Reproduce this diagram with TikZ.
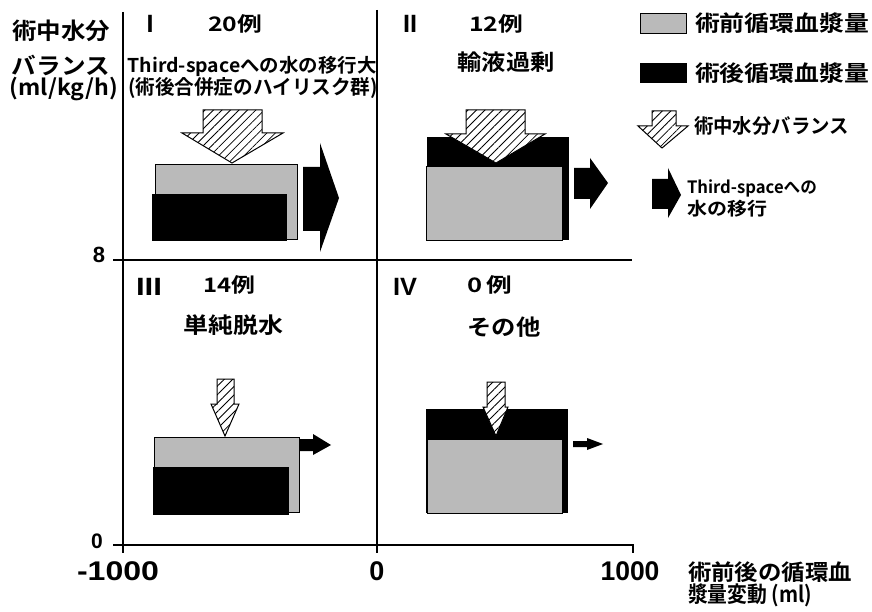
\documentclass[tikz,border=0pt]{standalone}
\usepackage{fontspec}
\usepackage{graphicx}
\usetikzlibrary{patterns.meta}
\newfontfamily\jp{Noto Sans CJK JP}[UprightFont=* Bold]
\newfontfamily\num{Liberation Sans}[UprightFont=* Bold]
\newcommand\fitw[2]{\resizebox{#1}{\height}{#2}}
\newcommand\fs[1]{\fontsize{#1}{#1}\selectfont}
\tikzset{
  ax/.style={line width=1.8pt},
  prebox/.style={fill=black!27, draw=black, line width=0.7pt},
  postbox/.style={fill=black},
  hatcharrow/.style={fill=white, draw=black, line width=1pt,
     postaction={pattern={Lines[angle=45,distance=6pt,line width=0.8pt]}}},
  movearrow/.style={fill=black},
  lbl/.style={inner sep=0pt, outer sep=0pt},
}
\begin{document}
\begin{tikzpicture}[x=1pt,y=-1pt]
\useasboundingbox (0,0) rectangle (872,612);

% axes
\draw[ax] (123,12) -- (123,553);
\draw[ax] (377,10) -- (377,553);
\draw[ax] (113,260) -- (632,260);
\draw[ax] (113,545) -- (633,545) -- (633,553);

% axis labels
\node[lbl] (ya) at (61,31) {\jp\fs{23}\fitw{98pt}{術中水分}};
\node[lbl] (yb) at (61,65) {\jp\fs{23}\fitw{98pt}{バランス}};
\node[lbl] (yc) at (64,89) {\jp\fs{22}\fitw{108pt}{(ml/kg/h)}};
\node[lbl] (y8) at (99,255) {\num\fs{22}8};
\node[lbl] (y0) at (97,541) {\num\fs{21}0};
\node[lbl] (xm) at (118,571) {\num\fs{27}\fitw{82pt}{-1000}};
\node[lbl] (xz) at (377,571) {\num\fs{27}0};
\node[lbl] (xp) at (630,571) {\num\fs{27}\fitw{59pt}{1000}};
\node[lbl, anchor=west] (xla) at (688,572) {\jp\fs{22}\fitw{164pt}{術前後の循環血}};
\node[lbl, anchor=west] (xlb) at (688,595) {\jp\fs{22}\fitw{124pt}{漿量変動 (ml)}};

% quadrant titles
\node[lbl] (q1n) at (150,24) {\num\fs{25}I};
\node[lbl] (q1c) at (235,24) {\jp\fs{20}\fitw{54pt}{20例}};
\node[lbl] (q1a) at (252,66) {\jp\fs{19}\fitw{249pt}{Third-spaceへの水の移行大}};
\node[lbl] (q1b) at (253,88) {\jp\fs{20}\fitw{250pt}{(術後合併症のハイリスク群)}};
\node[lbl] (q2n) at (410,24) {\num\fs{25}\fitw{14pt}{II}};
\node[lbl] (q2c) at (496,24) {\jp\fs{20}\fitw{54pt}{12例}};
\node[lbl] (q2a) at (506,62) {\jp\fs{22}\fitw{97pt}{輸液過剰}};
\node[lbl] (q3n) at (149,287) {\num\fs{25}\fitw{26pt}{III}};
\node[lbl] (q3c) at (229,285) {\jp\fs{20}\fitw{52pt}{14例}};
\node[lbl] (q3a) at (233,325) {\jp\fs{22}\fitw{100pt}{単純脱水}};
\node[lbl] (q4n) at (405,287) {\num\fs{25}\fitw{24pt}{IV}};
\node[lbl] (q4c) at (490,285) {\jp\fs{20}\fitw{45pt}{0\,例}};
\node[lbl] (q4a) at (504,327) {\jp\fs{22}\fitw{73pt}{その他}};

% quadrant I
\fill[prebox] (155,164) rectangle (297,239);
\fill[postbox] (152,194) rectangle (287,241);
\draw[hatcharrow] (203,110) -- (262,110) -- (262,133) -- (283,133) -- (232,163) -- (182,133) -- (203,133) -- cycle;
\fill[movearrow] (303,167) -- (320,167) -- (320,143) -- (339,198) -- (320,252) -- (320,231) -- (303,231) -- cycle;

% quadrant II
\fill[postbox] (427,137) rectangle (569,240);
\fill[prebox] (426,166) rectangle (562,240);
\draw[hatcharrow] (466,110) -- (525,110) -- (525,134) -- (545,134) -- (496,163) -- (446,134) -- (466,134) -- cycle;
\fill[movearrow] (574,168) -- (590,168) -- (590,158) -- (608,183) -- (590,209) -- (590,199) -- (574,199) -- cycle;

% quadrant III
\fill[prebox] (154,437) rectangle (299,512);
\fill[postbox] (153,467) rectangle (289,515);
\draw[hatcharrow] (217,379) -- (234,379) -- (234,404) -- (239,404) -- (225,436) -- (211,404) -- (217,404) -- cycle;
\fill[movearrow] (300,439) -- (313,439) -- (313,434) -- (331,445) -- (313,455) -- (313,451) -- (300,451) -- cycle;

% quadrant IV
\fill[postbox] (426,409) rectangle (568,513);
\fill[prebox] (427,439) rectangle (562,513);
\draw[hatcharrow] (487,382) -- (505,382) -- (505,407) -- (508,407) -- (496,436) -- (483,407) -- (487,407) -- cycle;
\fill[movearrow] (573,441) -- (587,441) -- (587,438) -- (603,444) -- (587,450) -- (587,447) -- (573,447) -- cycle;

% legend
\fill[prebox] (640,13) rectangle (686,33);
\node[lbl, anchor=west] (lg1) at (695,23) {\jp\fs{22}\fitw{174pt}{術前循環血漿量}};
\fill[postbox] (640,63) rectangle (687,83);
\node[lbl, anchor=west] (lg2) at (695,73) {\jp\fs{22}\fitw{174pt}{術後循環血漿量}};
\draw[hatcharrow] (652,111) -- (676,111) -- (676,126) -- (688,126) -- (662,148) -- (638,126) -- (652,126) -- cycle;
\node[lbl, anchor=west] (lg3) at (694,126) {\jp\fs{20}\fitw{155pt}{術中水分バランス}};
\fill[movearrow] (652,179) -- (668,179) -- (668,168) -- (681,195) -- (668,218) -- (668,209) -- (652,209) -- cycle;
\node[lbl, anchor=west] (lg4) at (687,188) {\jp\fs{17}\fitw{130pt}{Third-spaceへの}};
\node[lbl, anchor=west] (lg5) at (687,209) {\jp\fs{18}\fitw{80pt}{水の移行}};
\end{tikzpicture}
\end{document}
